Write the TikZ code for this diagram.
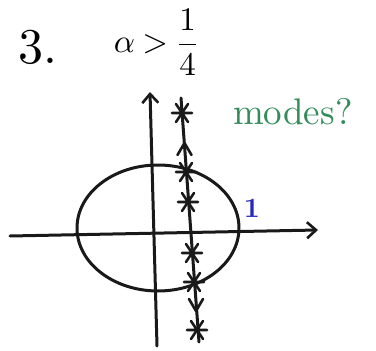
\documentclass[tikz,border=0pt]{standalone}
\usepackage{amsmath}
\usepackage{tikz}
\usetikzlibrary{arrows.meta,positioning}
\usepackage{xcolor}
\definecolor{penblack}{RGB}{25,25,25}
\definecolor{pengreen}{RGB}{52,140,90}
\definecolor{penblue}{RGB}{40,40,190}

\begin{document}
\begin{tikzpicture}[x=1pt, y=-1pt, line cap=round, line join=round]
\tikzset{
  ink/.style={penblack, line width=3pt},
  axisarrow/.style={ink, -{Straight Barb[length=9pt, width=16pt, line width=2.6pt]}},
  polestar/.pic={\draw[ink, line width=2.6pt] (-10,0)--(10,0) (-6,-9)--(6,9) (-6,9)--(6,-9);},
  upchev/.pic={\draw[ink, line width=2.6pt] (-7,9)--(0,-3)--(7,9);},
  downchev/.pic={\draw[ink, line width=2.6pt] (-7,-9)--(0,3)--(7,-9);}
}
\useasboundingbox (0,0) rectangle (376,351);
% title
\node[scale=5] (num) at (38,47) {3.};
\node[scale=3.3, anchor=west, inner sep=1pt] (cond) at (110,42) {$\alpha \mathbin{>} \dfrac{1}{4}$};
% axes
\coordinate (xl) at (10,236);
\coordinate (xr) at (318,230);
\coordinate (yb) at (157,346);
\coordinate (yt) at (150,92);
\draw[axisarrow] (xl) -- (xr);
\draw[axisarrow] (yb) -- (yt);
% unit circle
\draw[ink] (158,228) ellipse [x radius=81pt, y radius=63pt];
% line of poles
\coordinate (pt) at (181,98);
\coordinate (pb) at (199,342);
\draw[ink] (pt) -- (pb);
\coordinate (z1) at (182,113);
\coordinate (z2) at (186,172);
\coordinate (z3) at (188,202);
\coordinate (z4) at (192,253);
\coordinate (z5) at (194,282);
\coordinate (z6) at (197,330);
\foreach \z in {z1,z2,z3,z4,z5,z6}
  \pic at (\z) {polestar};
\pic at (184.5,146) {upchev};
\pic at (196,308) {downchev};
% notes
\node[pengreen, scale=3.7, anchor=west] (modes) at (220,112) {modes?};
\node[penblue, scale=2.8, font=\bfseries] (one) at (252,208) {1};
\end{tikzpicture}
\end{document}
